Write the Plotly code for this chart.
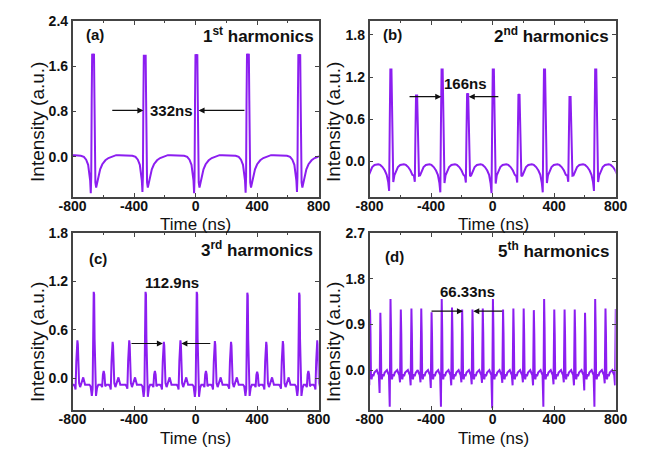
import plotly.graph_objects as go

W, H = 668, 449
LINE_COLOR = "#8C1EF0"
FONT = "Liberation Sans, Arial, sans-serif"

# ---------------- shared axis values ----------------
X_RANGE = [-800, 800]
X_TICKS = [-800, -400, 0, 400, 800]
X_TICKTEXT = ["-800", "-400", "0", "400", "800"]

# ---------------- panel (a): 1st harmonics ----------------
A_PULSE_T = [-1003, -667, -331, 5, 340, 674, 1010]
A_PULSE_PEAK = [1.82, 1.82, 1.80, 1.81, 1.82, 1.81, 1.82]
A_PULSE_DIP = [-0.63, -0.64, -0.62, -0.64, -0.63, -0.62, -0.63]
A_PULSE_TYPE = [0, 0, 0, 0, 0, 0, 0]
A_TPL_DT = [-166, -120, -80, -60, -45, -32, -24, -19, -15, -12, -9, -6, -2, 2, 6, 9, 12, 15, 20, 26, 34, 46, 60, 80, 100, 125, 150]
A_TPL_Y0 = [0.03, 0.03, 0.02, 0.0, -0.05, -0.14, -0.27, -0.42, 0, -0.35, 0, 0, 0, 0, 0, 0, -0.1, -0.45, -0.54, -0.45, -0.35, -0.22, -0.13, -0.06, -0.02, 0.01, 0.03]
A_TPL_K = [0, 0, 0, 0, 0, 0, 0, 0, 0, 0, 0.55, 1.0, 0.95, 0.95, 1.0, 0.55, 0, 0, 0, 0, 0, 0, 0, 0, 0, 0, 0]
A_TPL_M = [0, 0, 0, 0, 0, 0, 0, 0, 1.0, 0, 0, 0, 0, 0, 0, 0, 0, 0, 0, 0, 0, 0, 0, 0, 0, 0, 0]
A_YRANGE = [-0.7, 2.4]
A_YTICKS = [0.0, 0.8, 1.6, 2.4]
A_YTICKTEXT = ["0.0", "0.8", "1.6", "2.4"]

# ---------------- panel (b): 2nd harmonics ----------------
B_PULSE_T = [-828, -661, -494, -328, -162, 5, 172, 338, 504, 671, 838]
B_PULSE_PEAK = [0.95, 1.32, 0.95, 1.32, 0.97, 1.32, 0.96, 1.32, 0.93, 1.32, 0.95]
B_PULSE_DIP = [-0.30, -0.42, -0.29, -0.44, -0.30, -0.45, -0.30, -0.44, -0.29, -0.42, -0.30]
B_PULSE_TYPE = [0] * 11
B_TPL_DT = [-83, -70, -55, -40, -28, -18, -12, -8, -4, 0, 3, 7, 11, 15, 22, 32, 45, 60, 75]
B_TPL_Y0 = [-0.04, -0.05, -0.08, -0.13, -0.19, 0, 0, 0, 0, 0, 0, 0, 0, 0, -0.2, -0.14, -0.08, -0.05, -0.04]
B_TPL_K = [0, 0, 0, 0, 0, 0, 0, 0.4, 1.0, 0.93, 1.0, 0.4, 0, 0, 0, 0, 0, 0, 0]
B_TPL_M = [0, 0, 0, 0, 0, 0.7, 1.0, 0, 0, 0, 0, 0, 0.55, 0.7, 0, 0, 0, 0, 0]
B_YRANGE = [-0.5, 2.0]
B_YTICKS = [0.0, 0.6, 1.2, 1.8]
B_YTICKTEXT = ["0.0", "0.6", "1.2", "1.8"]

# ---------------- panel (c): 3rd harmonics ----------------
# pulse types: 0 = main pulse, 1 = harmonic pulse, 2 = small residual bump
C_PULSE_T = [-872, -769, -661, -598, -540, -432, -324, -265, -207, -99, 9, 67, 125, 230, 338, 400, 459, 567, 675, 733, 791, 899]
C_PULSE_TYPE = [1, 1, 0, 2, 1, 1, 0, 2, 1, 1, 0, 2, 1, 1, 0, 2, 1, 1, 0, 2, 1, 1]
C_PULSE_PEAK = [0.46, 0.47, 1.07, 0.09, 0.45, 0.47, 1.07, 0.09, 0.45, 0.47, 1.07, 0.09, 0.46, 0.45, 1.06, 0.08, 0.45, 0.46, 1.06, 0.09, 0.47, 0.46]
C_PULSE_DIP = [-0.14, -0.14, -0.22, 0.0, -0.14, -0.13, -0.23, 0.0, -0.14, -0.14, -0.23, 0.0, -0.14, -0.13, -0.22, 0.0, -0.14, -0.13, -0.22, 0.0, -0.14, -0.14]
C_MAIN_DT = [-30, -22, -14, -9, -5, -2, 1, 4, 8, 13, 20, 28]
C_MAIN_Y0 = [-0.08, -0.1, 0, 0, 0, 0, 0, 0, -0.1, 0, -0.12, -0.08]
C_MAIN_K = [0, 0, 0, 0, 0.5, 1.0, 0.97, 0.45, 0, 0, 0, 0]
C_MAIN_M = [0, 0, 1.0, 0.6, 0, 0, 0, 0, 0, 1.0, 0, 0]
C_HARM_DT = [-25, -17, -12, -7, -3, 0, 3, 7, 11, 18, 28, 38, 50]
C_HARM_Y0 = [-0.08, -0.1, 0, 0, 0, 0, 0, 0, -0.06, -0.11, -0.06, 0.01, -0.08]
C_HARM_K = [0, 0, 0, 0.45, 0.85, 1.0, 0.9, 0.4, 0, 0, 0, 0, 0]
C_HARM_M = [0, 0, 1.0, 0, 0, 0, 0, 0, 0, 0, 0, 0, 0]
C_BUMP_DT = [-18, -10, -5, 0, 5, 10, 18]
C_BUMP_Y0 = [-0.08, -0.11, 0, 0, 0, -0.1, -0.08]
C_BUMP_K = [0, 0, 0.5, 1.0, 0.5, 0, 0]
C_BUMP_M = [0, 0, 0, 0, 0, 0, 0]
C_YRANGE = [-0.39, 1.8]
C_YTICKS = [0.0, 0.6, 1.2, 1.8]
C_YTICKTEXT = ["0.0", "0.6", "1.2", "1.8"]

# ---------------- panel (d): 5th harmonics ----------------
D_PULSE_T = [-862, -796, -729, -663, -596, -527, -463, -396, -330, -263, -197, -130, -63, 3, 69, 136, 203, 269, 336, 402, 469, 535, 602, 668, 735, 802]
D_PULSE_PEAK = [1.20, 1.19, 1.13, 1.40, 1.19, 1.21, 1.21, 1.14, 1.40, 1.23, 1.19, 1.19, 1.21, 1.40, 1.19, 1.21, 1.21, 1.18, 1.40, 1.19, 1.19, 1.19, 1.13, 1.40, 1.21, 1.20]
D_PULSE_DIP = [-0.28, -0.30, -0.45, -0.72, -0.24, -0.30, -0.24, -0.35, -0.72, -0.30, -0.24, -0.28, -0.25, -0.75, -0.25, -0.30, -0.24, -0.30, -0.72, -0.28, -0.24, -0.30, -0.40, -0.72, -0.26, -0.30]
D_PULSE_TYPE = [0] * 26
D_TPL_DT = [-32, -24, -17, -11, -6, -3, -1, 2, 5, 9, 14, 20, 27]
D_TPL_Y0 = [-0.02, 0.0, -0.06, -0.1, 0, 0, 0, 0, -0.12, -0.18, -0.08, -0.12, -0.05]
D_TPL_K = [0, 0, 0, 0, 0, 0.55, 1.0, 0.6, 0, 0, 0, 0, 0]
D_TPL_M = [0, 0, 0, 0, 1.0, 0, 0, 0, 0, 0, 0, 0, 0]
D_YRANGE = [-0.78, 2.7]
D_YTICKS = [0.0, 0.9, 1.8, 2.7]
D_YTICKTEXT = ["0.0", "0.9", "1.8", "2.7"]


def build(ts, peaks, dips, types, templates):
    xs, ys = [], []
    for t, p, d, ty in zip(ts, peaks, dips, types):
        dt, y0, k, m = templates[ty]
        for i in range(len(dt)):
            xs.append(t + dt[i])
            ys.append(y0[i] + k[i] * p + m[i] * d)
    return xs, ys


ax_, ay_ = build(A_PULSE_T, A_PULSE_PEAK, A_PULSE_DIP, A_PULSE_TYPE,
                 [(A_TPL_DT, A_TPL_Y0, A_TPL_K, A_TPL_M)])
bx_, by_ = build(B_PULSE_T, B_PULSE_PEAK, B_PULSE_DIP, B_PULSE_TYPE,
                 [(B_TPL_DT, B_TPL_Y0, B_TPL_K, B_TPL_M)])
cx_, cy_ = build(C_PULSE_T, C_PULSE_PEAK, C_PULSE_DIP, C_PULSE_TYPE,
                 [(C_MAIN_DT, C_MAIN_Y0, C_MAIN_K, C_MAIN_M),
                  (C_HARM_DT, C_HARM_Y0, C_HARM_K, C_HARM_M),
                  (C_BUMP_DT, C_BUMP_Y0, C_BUMP_K, C_BUMP_M)])
dx_, dy_ = build(D_PULSE_T, D_PULSE_PEAK, D_PULSE_DIP, D_PULSE_TYPE,
                 [(D_TPL_DT, D_TPL_Y0, D_TPL_K, D_TPL_M)])

fig = go.Figure()
for (xs, ys, xa, ya) in [(ax_, ay_, "x", "y"), (bx_, by_, "x2", "y2"),
                         (cx_, cy_, "x3", "y3"), (dx_, dy_, "x4", "y4")]:
    fig.add_trace(go.Scatter(x=xs, y=ys, xaxis=xa, yaxis=ya, mode="lines",
                             line=dict(color=LINE_COLOR, width=2),
                             showlegend=False, hoverinfo="skip"))

TICKFONT = dict(family=FONT, size=14, color="#111111", weight="bold")


def xaxis(domain, anchor):
    return dict(domain=domain, anchor=anchor, range=X_RANGE, tickvals=X_TICKS,
                ticktext=X_TICKTEXT, showline=True, linecolor="#444444",
                linewidth=1.5, mirror="ticks", ticks="inside", ticklen=4,
                tickcolor="#444444", tickfont=TICKFONT, showgrid=False,
                ticklabelstandoff=-4,
                zeroline=False, minor=dict(ticks="inside", ticklen=2,
                                           dtick=200, tickcolor="#444444"))


def yaxis(domain, anchor, rng, tv, tt):
    return dict(domain=domain, anchor=anchor, range=rng, tickvals=tv,
                ticktext=tt, showline=True, linecolor="#444444",
                linewidth=1.5, mirror="ticks", ticks="inside", ticklen=4,
                tickcolor="#444444", tickfont=TICKFONT, showgrid=False,
                zeroline=False)


XD_L = [61 / W, 317 / W]
XD_R = [370 / W, 626 / W]
YD_T = [1 - 192 / H, 1 - 13 / H]
YD_B = [1 - 409 / H, 1 - 229 / H]

fig.update_layout(
    width=W, height=H, margin=dict(l=0, r=0, t=0, b=0),
    paper_bgcolor="white", plot_bgcolor="white",
    xaxis=xaxis(XD_L, "y"), yaxis=yaxis(YD_T, "x", A_YRANGE, A_YTICKS, A_YTICKTEXT),
    xaxis2=xaxis(XD_R, "y2"), yaxis2=yaxis(YD_T, "x2", B_YRANGE, B_YTICKS, B_YTICKTEXT),
    xaxis3=xaxis(XD_L, "y3"), yaxis3=yaxis(YD_B, "x3", C_YRANGE, C_YTICKS, C_YTICKTEXT),
    xaxis4=xaxis(XD_R, "y4"), yaxis4=yaxis(YD_B, "x4", D_YRANGE, D_YTICKS, D_YTICKTEXT),
)

ann = []


def paper_text(text, px, py, size, xanchor="center", weight="bold", angle=0):
    ann.append(dict(text=text, x=px / W, y=1 - py / H, xref="paper", yref="paper",
                    xanchor=xanchor, yanchor="middle", showarrow=False,
                    textangle=angle,
                    font=dict(family=FONT, size=size, color="#111111", weight=weight)))


# panel labels and titles
paper_text("(a)", 84, 27, 15)
paper_text("(b)", 394, 27, 15)
paper_text("(c)", 87, 255, 15)
paper_text("(d)", 396, 253, 15)
paper_text("1<sup>st</sup> harmonics", 314, 27, 17, xanchor="right")
paper_text("2<sup>nd</sup> harmonics", 621, 27, 17, xanchor="right")
paper_text("3<sup>rd</sup> harmonics", 313, 245, 17, xanchor="right")
paper_text("5<sup>th</sup> harmonics", 621, 246, 17, xanchor="right")
for (cx, cy) in [(189, 220), (499, 220), (189, 438), (499, 438)]:
    paper_text("Time (ns)", cx, cy, 17, weight="normal")
for (cx, cy) in [(25, 116), (333, 116), (25, 340), (333, 340)]:
    paper_text("Intensity (a.u.)", cx, cy, 19, weight="normal", angle=-90)

# period labels (data coordinates)
PERIOD_LABELS = ["332ns", "166ns", "112.9ns", "66.33ns"]
PERIOD_LABEL_POS = [(-157, 0.82), (-176, 1.11), (-157, 1.18), (-163, 1.54)]
# arrows: (tail_x, tip_x, y) per panel, two arrows each
ARROWS = [
    [(-552, -340, 0.82), (327, 19, 0.82)],
    [(-550, -334, 0.92), (47, -155, 0.92)],
    [(-427, -213, 0.43), (105, -93, 0.43)],
    [(-407, -193, 1.16), (72, -126, 1.16)],
]
AXES = [("x", "y"), ("x2", "y2"), ("x3", "y3"), ("x4", "y4")]
for i, (xa, ya) in enumerate(AXES):
    lx, ly = PERIOD_LABEL_POS[i]
    ann.append(dict(text=PERIOD_LABELS[i], x=lx, y=ly, xref=xa, yref=ya,
                    showarrow=False, xanchor="center", yanchor="middle",
                    font=dict(family=FONT, size=15, color="#111111", weight="bold")))
    for (tail, tip, yy) in ARROWS[i]:
        ann.append(dict(text="", x=tip, y=yy, ax=tail, ay=yy, xref=xa, yref=ya,
                        axref=xa, ayref=ya, showarrow=True, arrowhead=2,
                        arrowsize=1, arrowwidth=1.2, arrowcolor="#111111",
                        standoff=0))

fig.update_layout(annotations=ann)
fig.write_html("out.html")
